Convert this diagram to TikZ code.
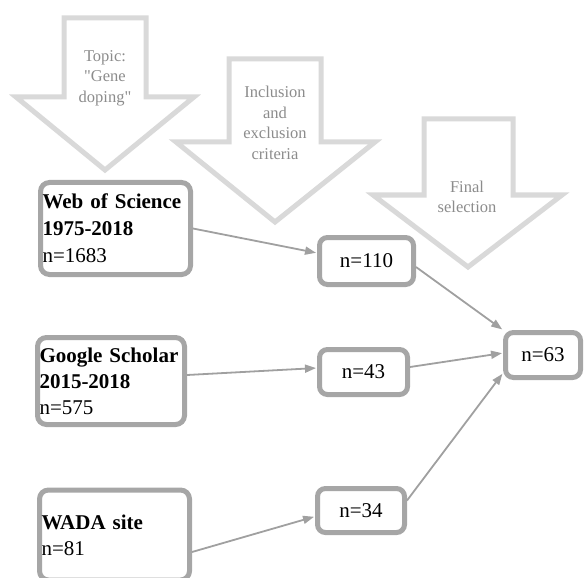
\documentclass[tikz,border=0pt]{standalone}
\usepackage{fontspec}
\setmainfont{Liberation Serif}
\usetikzlibrary{arrows.meta}
\definecolor{arrowgray}{HTML}{D9D9D9}
\definecolor{boxgray}{HTML}{A6A6A6}
\definecolor{linegray}{HTML}{A0A0A0}
\definecolor{labelgray}{HTML}{8C8C8C}
\begin{document}
\begin{tikzpicture}[x=1pt,y=-1pt,
 blockarrow/.style={draw=arrowgray, line width=5pt, fill=white, line join=miter},
 arrowlabel/.style={text=labelgray, font=\fontsize{16.5}{20.5}\selectfont, align=center},
 srcbox/.style={draw=boxgray, line width=5pt, rounded corners=9pt, fill=white, align=left, font=\fontsize{21}{27}\selectfont, inner sep=2pt},
 cntbox/.style={draw=boxgray, line width=5pt, rounded corners=8pt, fill=white, font=\fontsize{21}{25}\selectfont},
 conn/.style={draw=linegray, line width=1.8pt, -{Triangle[length=11pt,width=8pt]}, shorten >=1pt}
]
\useasboundingbox (0,0) rectangle (585,577);
\clip (0,0) rectangle (585,577);
% block arrows
\draw[blockarrow] (64,18) -- (146,18) -- (146,97) -- (194,97) -- (105,170) -- (16,97) -- (64,97) -- cycle;
\draw[blockarrow] (229,59) -- (321,59) -- (321,142) -- (375,142) -- (275,222) -- (176,142) -- (229,142) -- cycle;
\draw[blockarrow] (424,119) -- (513,119) -- (513,195) -- (562,195) -- (468,267) -- (373,195) -- (424,195) -- cycle;
\node[arrowlabel] (topic) at (105,78) {Topic:\\\textquotedbl Gene\\doping\textquotedbl};
\node[arrowlabel] (incl) at (275,123) {Inclusion\\and\\exclusion\\criteria};
\node[arrowlabel] (final) at (467,197) {Final\\selection};
% source boxes
\node[srcbox, text width=146pt, minimum height=92pt] (wos) at (115.5,228.5) {\textbf{Web of Science}\\\textbf{1975-2018}\\n=1683};
\node[srcbox, text width=143pt, minimum height=87pt, font=\fontsize{21}{26}\selectfont] (gs) at (111,381) {\textbf{Google Scholar}\\\textbf{2015-2018}\\n=575};
\node[srcbox, text width=146pt, minimum height=90pt, font=\fontsize{21}{26}\selectfont] (wada) at (114.5,535) {\textbf{WADA site}\\n=81};
% count boxes
\node[cntbox, minimum width=94pt, minimum height=47pt] (n110) at (366.5,261) {n=110};
\node[cntbox, minimum width=88pt, minimum height=45pt] (n43) at (363.5,372) {n=43};
\node[cntbox, minimum width=87pt, minimum height=44pt] (n34) at (361,510.5) {n=34};
\node[cntbox, minimum width=75pt, minimum height=45pt] (n63) at (543,355) {n=63};
% connectors
\draw[conn] (wos.east) -- ([yshift=8pt]n110.west);
\draw[conn] ([yshift=6pt]gs.east) -- ([yshift=4pt]n43.west);
\draw[conn] ([yshift=-17pt]wada.east) -- ([yshift=-6pt]n34.west);
\draw[conn] ([yshift=-6pt]n110.east) -- (n63.north west);
\draw[conn] ([yshift=5pt]n43.east) -- ([yshift=2pt]n63.west);
\draw[conn] ([yshift=10pt]n34.east) -- ([yshift=-18pt]n63.west);
\end{tikzpicture}
\end{document}
